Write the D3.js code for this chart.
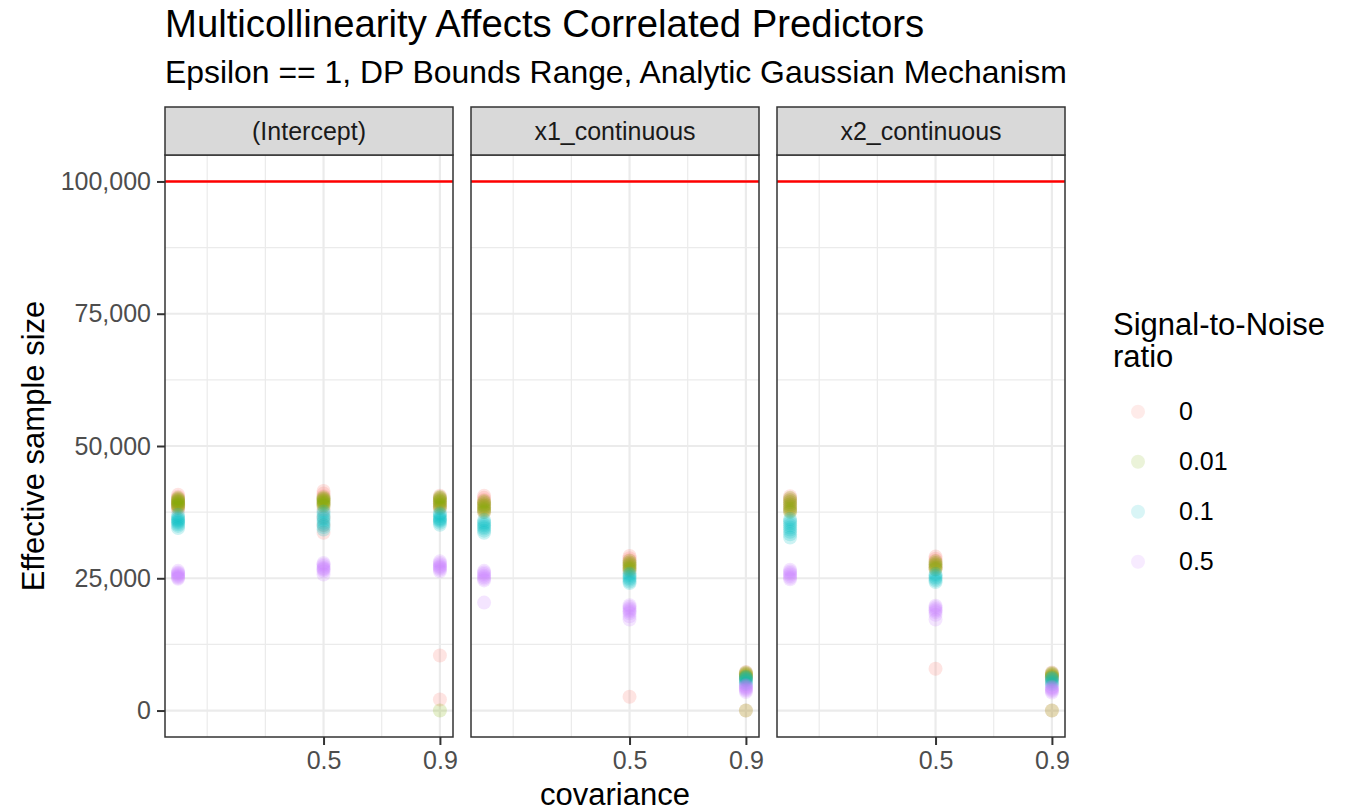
<!DOCTYPE html>
<html>
<head>
<meta charset="utf-8">
<script src="https://cdn.jsdelivr.net/npm/d3@7"></script>
<style>
  body { margin: 0; background: #fff; }
  svg { font-family: "Liberation Sans", Arial, sans-serif; }
</style>
</head>
<body>
<div id="chart"></div>
<script>
// facets, x values, colour groups
const facets = ["(Intercept)", "x1_continuous", "x2_continuous"];
const covariance = [0, 0.5, 0.9];
const snrLevels = ["0", "0.01", "0.1", "0.5"];
const xBreaks = [0.5, 0.9];
const xMinorBreaks = [0.1, 0.3, 0.7];
const yBreaks = [0, 25000, 50000, 75000, 100000];
const yMinorBreaks = [12500, 37500, 62500, 87500];
const referenceN = 100000;

// effective sample size, one array per covariance level (0, 0.5, 0.9)
const intercept_snr0 = [
  [40800, 40400, 40100, 39800, 39500, 39300, 39000, 38800, 38600, 38300, 37900],
  [41500, 41000, 40500, 40100, 39700, 39300, 38800, 38000, 36500, 35000, 33600],
  [40600, 40200, 39900, 39500, 39200, 38900, 38500, 38200, 10400, 2100]
];
const intercept_snr001 = [
  [40200, 40000, 39800, 39600, 39400, 39200, 39000, 38800, 38600, 38300],
  [40300, 40100, 39900, 39700, 39500, 39300, 39100, 38900, 38600],
  [40400, 40200, 40000, 39700, 39500, 39200, 38900, 38600, 38300, 0]
];
const intercept_snr01 = [
  [37000, 36600, 36300, 36100, 35900, 35700, 35500, 35200, 34900, 34500],
  [37600, 37200, 36700, 36300, 35900, 35500, 35100, 34700, 34200],
  [37300, 37000, 36700, 36400, 36200, 36000, 35800, 35500, 35100]
];
const intercept_snr05 = [
  [26400, 26100, 25900, 25700, 25500, 25300, 25100, 24900],
  [27900, 27600, 27300, 27000, 26800, 26600, 26300, 25700],
  [28200, 27900, 27600, 27300, 27100, 26900, 26600, 26300]
];

const x1_snr0 = [
  [40600, 40200, 39800, 39400, 39000, 38700, 38300, 37900, 37500],
  [29200, 28800, 28400, 28000, 27600, 27200, 26800, 26300, 2600],
  [7300, 7000, 6700, 6400, 6100, 5800, 0]
];
const x1_snr001 = [
  [39600, 39300, 39000, 38700, 38400, 38100, 37800, 37500],
  [28300, 28000, 27700, 27400, 27100, 26800, 26500],
  [7200, 7000, 6800, 6600, 6400, 6200, 0]
];
const x1_snr01 = [
  [36000, 35600, 35300, 35000, 34700, 34400, 34000, 33600],
  [25900, 25600, 25300, 25000, 24700, 24400, 24100],
  [6400, 6200, 6000, 5800, 5600, 5300, 5000]
];
const x1_snr05 = [
  [26400, 26100, 25800, 25500, 25200, 24900, 24600, 20400],
  [19900, 19600, 19300, 19000, 18700, 18400, 17800, 17200],
  [4800, 4600, 4400, 4200, 4000, 3800, 3500]
];

const x2_snr0 = [
  [40500, 40100, 39700, 39300, 38900, 38500, 38100, 37700],
  [29100, 28700, 28300, 27900, 27500, 27100, 26700, 7900],
  [7200, 6900, 6600, 6300, 6000, 5600, 0]
];
const x2_snr001 = [
  [40200, 39800, 39400, 39000, 38600, 38200, 37800, 37500],
  [28200, 27900, 27600, 27300, 27000, 26700],
  [7100, 6900, 6700, 6500, 6300, 0]
];
const x2_snr01 = [
  [36200, 35800, 35400, 35000, 34600, 34200, 33800, 33300, 32700],
  [25800, 25500, 25200, 24900, 24600, 24300],
  [6200, 6000, 5800, 5500, 5200, 4900]
];
const x2_snr05 = [
  [26600, 26300, 26000, 25700, 25400, 25100, 24800],
  [19800, 19500, 19200, 18900, 18600, 18100, 17200],
  [4500, 4300, 4100, 3900, 3700, 3400]
];

const facetData = [
  [intercept_snr0, intercept_snr001, intercept_snr01, intercept_snr05],
  [x1_snr0, x1_snr001, x1_snr01, x1_snr05],
  [x2_snr0, x2_snr001, x2_snr01, x2_snr05]
];

// flatten into rows
const rows = [];
facetData.forEach((groups, fi) => {
  groups.forEach((byCov, si) => {
    byCov.forEach((vals, ci) => {
      vals.forEach(v => rows.push({ facet: fi, snr: snrLevels[si], cov: covariance[ci], n: v }));
    });
  });
});

const width = 1358, height = 812;
const panelLeft = 165, panelW = 288, panelGap = 18;
const panelTop = 155, panelBottom = 737, stripTop = 107;
const alpha = 0.2;

const color = d3.scaleOrdinal()
  .domain(snrLevels)
  .range(["#F8766D", "#7CAE00", "#00BFC4", "#C77CFF"]);

const x = d3.scaleLinear().domain([-0.045, 0.945]).range([0, panelW]);
const y = d3.scaleLinear().domain([-5000, 105000]).range([panelBottom, panelTop]);

const svg = d3.select("#chart").append("svg")
  .attr("width", width)
  .attr("height", height);

// titles
svg.append("text")
  .attr("x", panelLeft).attr("y", 37)
  .attr("font-size", 38.3).attr("fill", "#000")
  .text("Multicollinearity Affects Correlated Predictors");
svg.append("text")
  .attr("x", panelLeft).attr("y", 83)
  .attr("font-size", 31.9).attr("fill", "#000")
  .text("Epsilon == 1, DP Bounds Range, Analytic Gaussian Mechanism");

facets.forEach((name, fi) => {
  const g = svg.append("g")
    .attr("transform", `translate(${panelLeft + fi * (panelW + panelGap)},0)`);

  // grid
  g.selectAll(".yminor").data(yMinorBreaks).join("line")
    .attr("x1", 0).attr("x2", panelW)
    .attr("y1", d => y(d)).attr("y2", d => y(d))
    .attr("stroke", "#EBEBEB").attr("stroke-width", 1.2);
  g.selectAll(".xminor").data(xMinorBreaks).join("line")
    .attr("class", "xminor")
    .attr("x1", d => x(d)).attr("x2", d => x(d))
    .attr("y1", panelTop).attr("y2", panelBottom)
    .attr("stroke", "#EBEBEB").attr("stroke-width", 1.2);
  g.selectAll(".ymajor").data(yBreaks).join("line")
    .attr("class", "ymajor")
    .attr("x1", 0).attr("x2", panelW)
    .attr("y1", d => y(d)).attr("y2", d => y(d))
    .attr("stroke", "#EBEBEB").attr("stroke-width", 2.2);
  g.selectAll(".xmajor").data(xBreaks).join("line")
    .attr("class", "xmajor")
    .attr("x1", d => x(d)).attr("x2", d => x(d))
    .attr("y1", panelTop).attr("y2", panelBottom)
    .attr("stroke", "#EBEBEB").attr("stroke-width", 2.2);

  // reference line
  g.append("line")
    .attr("x1", 0).attr("x2", panelW)
    .attr("y1", y(referenceN)).attr("y2", y(referenceN))
    .attr("stroke", "red").attr("stroke-width", 2.4);

  // points
  g.selectAll("circle.pt").data(rows.filter(r => r.facet === fi)).join("circle")
    .attr("class", "pt")
    .attr("cx", d => x(d.cov))
    .attr("cy", d => y(d.n))
    .attr("r", 7)
    .attr("fill", d => color(d.snr))
    .attr("fill-opacity", alpha);

  // border
  g.append("rect")
    .attr("x", 0).attr("y", panelTop)
    .attr("width", panelW).attr("height", panelBottom - panelTop)
    .attr("fill", "none").attr("stroke", "#333").attr("stroke-width", 1.5);

  // strip
  g.append("rect")
    .attr("x", 0).attr("y", stripTop)
    .attr("width", panelW).attr("height", panelTop - stripTop)
    .attr("fill", "#D9D9D9").attr("stroke", "#333").attr("stroke-width", 1.5);
  g.append("text")
    .attr("x", panelW / 2).attr("y", (stripTop + panelTop) / 2)
    .attr("dy", "0.35em")
    .attr("text-anchor", "middle")
    .attr("font-size", 25).attr("fill", "#1A1A1A")
    .text(name);

  // x axis
  const xAxis = g.append("g")
    .attr("transform", `translate(0,${panelBottom})`)
    .call(d3.axisBottom(x).tickValues(xBreaks).tickSize(8).tickPadding(6).tickFormat(d3.format(".1f")));
  xAxis.select(".domain").remove();
  xAxis.selectAll(".tick line").attr("stroke", "#333").attr("stroke-width", 2);
  xAxis.selectAll(".tick text")
    .attr("font-family", "Liberation Sans, Arial, sans-serif")
    .attr("font-size", 25).attr("fill", "#4D4D4D");

  // y axis on first panel only
  if (fi === 0) {
    const yAxis = g.append("g")
      .call(d3.axisLeft(y).tickValues(yBreaks).tickSize(8).tickPadding(6).tickFormat(d3.format(",")));
    yAxis.select(".domain").remove();
    yAxis.selectAll(".tick line").attr("stroke", "#333").attr("stroke-width", 2);
    yAxis.selectAll(".tick text")
      .attr("font-family", "Liberation Sans, Arial, sans-serif")
      .attr("font-size", 25).attr("fill", "#4D4D4D");
  }
});

// axis titles
const panelsRight = panelLeft + 3 * panelW + 2 * panelGap;
svg.append("text")
  .attr("x", (panelLeft + panelsRight) / 2).attr("y", 805)
  .attr("text-anchor", "middle")
  .attr("font-size", 31).attr("fill", "#000")
  .text("covariance");
svg.append("text")
  .attr("transform", `translate(44,${(panelTop + panelBottom) / 2}) rotate(-90)`)
  .attr("text-anchor", "middle")
  .attr("font-size", 31).attr("fill", "#000")
  .text("Effective sample size");

// legend
const legend = svg.append("g").attr("transform", "translate(1113,0)");
legend.append("text").attr("x", 0).attr("y", 335)
  .attr("font-size", 31).attr("fill", "#000").text("Signal-to-Noise");
legend.append("text").attr("x", 0).attr("y", 367)
  .attr("font-size", 31).attr("fill", "#000").text("ratio");
const keys = legend.selectAll("g.key").data(snrLevels).join("g")
  .attr("class", "key")
  .attr("transform", (d, i) => `translate(0,${411.7 + i * 50})`);
keys.append("circle")
  .attr("cx", 25).attr("cy", 0).attr("r", 7)
  .attr("fill", d => color(d)).attr("fill-opacity", 0.15);
keys.append("text")
  .attr("x", 66).attr("y", 0).attr("dy", "0.35em")
  .attr("font-size", 25).attr("fill", "#000")
  .text(d => d);
</script>
</body>
</html>
